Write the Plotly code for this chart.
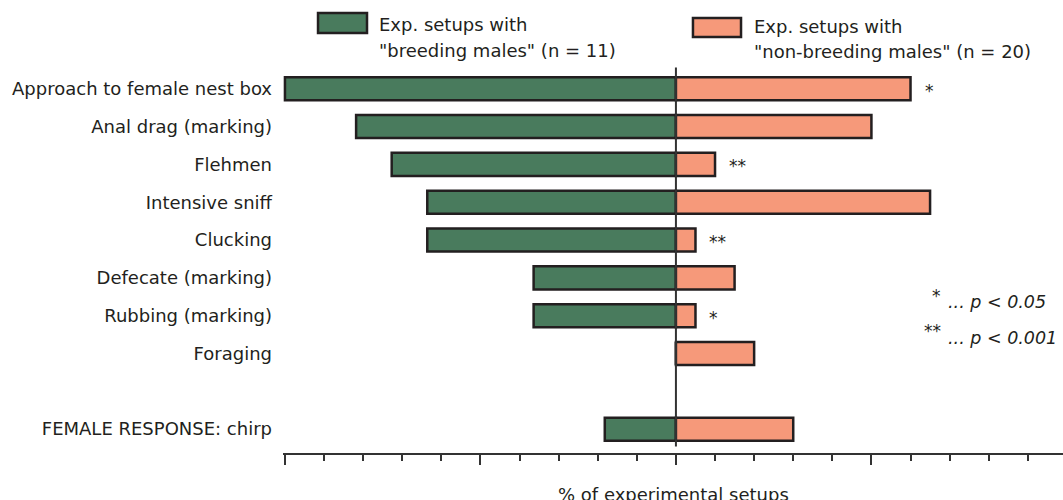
import plotly.graph_objects as go

# Behaviour categories (top to bottom) and the share of setups showing each
categories = [
    "Approach to female nest box",
    "Anal drag (marking)",
    "Flehmen",
    "Intensive sniff",
    "Clucking",
    "Defecate (marking)",
    "Rubbing (marking)",
    "Foraging",
    "FEMALE RESPONSE: chirp",
]
breeding_pct = [100, 81.8, 72.7, 63.6, 63.6, 36.4, 36.4, 0, 18.2]
nonbreeding_pct = [60, 50, 10, 65, 5, 15, 5, 20, 30]
significance = ["*", "", "**", "", "**", "", "*", "", ""]

legend_breeding = ["Exp. setups with", "\"breeding males\" (n = 11)"]
legend_nonbreeding = ["Exp. setups with", "\"non-breeding males\" (n = 20)"]
sig_keys = [("*", "... p < 0.05"), ("**", "... p < 0.001")]

GREEN = "#497b5d"
SALMON = "#f6997a"
EDGE = "#231f20"
FONT = "DejaVu Sans"
FS = 18

# Row positions: behaviours stacked, female response separated by one empty row
rows = list(range(len(categories) - 1)) + [len(categories)]

fig = go.Figure()
fig.add_trace(go.Bar(
    y=rows, x=[-v for v in breeding_pct], orientation="h", width=0.61,
    marker=dict(color=GREEN, line=dict(color=EDGE, width=2.5)),
    cliponaxis=False, showlegend=False,
))
fig.add_trace(go.Bar(
    y=rows, x=nonbreeding_pct, orientation="h", width=0.61,
    marker=dict(color=SALMON, line=dict(color=EDGE, width=2.5)),
    cliponaxis=False, showlegend=False,
))

annotations = []
# significance stars next to the non-breeding bars
for r, v, s in zip(rows, nonbreeding_pct, significance):
    if s:
        annotations.append(dict(
            x=v, y=r, xref="x", yref="y", text=s, showarrow=False,
            xanchor="left", xshift=12, yshift=-2,
            font=dict(family=FONT, size=17, color=EDGE),
        ))

shapes = [
    # legend swatches (paper coordinates, above the plotting area)
    dict(type="rect", xref="paper", yref="paper", x0=0.0449, x1=0.1077,
         y0=1.0853, y1=1.137, fillcolor=GREEN, line=dict(color=EDGE, width=2.5)),
    dict(type="rect", xref="paper", yref="paper", x0=0.5256, x1=0.5872,
         y0=1.0749, y1=1.1240, fillcolor=SALMON, line=dict(color=EDGE, width=2.5)),
    # zero line
    dict(type="line", xref="x", yref="y", x0=0, x1=0, y0=-0.56, y1=9.46,
         line=dict(color="#333333", width=2)),
]
for i, line in enumerate(legend_breeding):
    annotations.append(dict(
        x=0.1205, y=1.1085 - i * 0.0672, xref="paper", yref="paper", text=line,
        showarrow=False, xanchor="left", yanchor="middle",
        font=dict(family=FONT, size=FS, color=EDGE),
    ))
for i, line in enumerate(legend_nonbreeding):
    annotations.append(dict(
        x=0.6013, y=1.1008 - i * 0.0646, xref="paper", yref="paper", text=line,
        showarrow=False, xanchor="left", yanchor="middle",
        font=dict(family=FONT, size=FS, color=EDGE),
    ))

# significance key
for i, (star, txt) in enumerate(sig_keys):
    annotations.append(dict(
        x=68.3, y=5.47 + i * 0.93, xref="x", yref="y", text=star,
        showarrow=False, xanchor="right", yanchor="middle",
        font=dict(family=FONT, size=17, color=EDGE),
    ))
    annotations.append(dict(
        x=69.0, y=5.65 + i * 0.93, xref="x", yref="y", text=f"<i>{txt}</i>",
        showarrow=False, xanchor="left", yanchor="middle",
        font=dict(family=FONT, size=17.5, color=EDGE),
    ))

# x-axis title
annotations.append(dict(
    x=0.5, y=-0.075, xref="paper", yref="paper", text="% of experimental setups",
    showarrow=False, xanchor="center", yanchor="top",
    font=dict(family=FONT, size=FS, color=EDGE),
))

fig.update_layout(
    width=1063, height=500,
    margin=dict(l=283, r=0, t=66, b=47, pad=0),
    paper_bgcolor="white", plot_bgcolor="white",
    barmode="overlay",
    shapes=shapes, annotations=annotations,
    font=dict(family=FONT, size=FS, color=EDGE),
    xaxis=dict(
        range=[-100.5, 99.0], showgrid=False, zeroline=False,
        showline=True, linecolor="#333333", linewidth=2,
        ticks="outside", tickvals=[-100, -50, 0, 50], ticklen=10,
        tickwidth=2, tickcolor="#333333", showticklabels=False,
        minor=dict(dtick=10, tick0=0, ticks="outside", ticklen=6,
                   tickwidth=2, tickcolor="#333333"),
    ),
    yaxis=dict(
        range=[9.63, -0.6], showgrid=False, zeroline=False, showline=False,
        tickvals=rows, ticktext=categories, ticks="", ticklabelstandoff=10,
        tickfont=dict(family=FONT, size=FS, color=EDGE),
    ),
)

fig.write_html("out.html")
